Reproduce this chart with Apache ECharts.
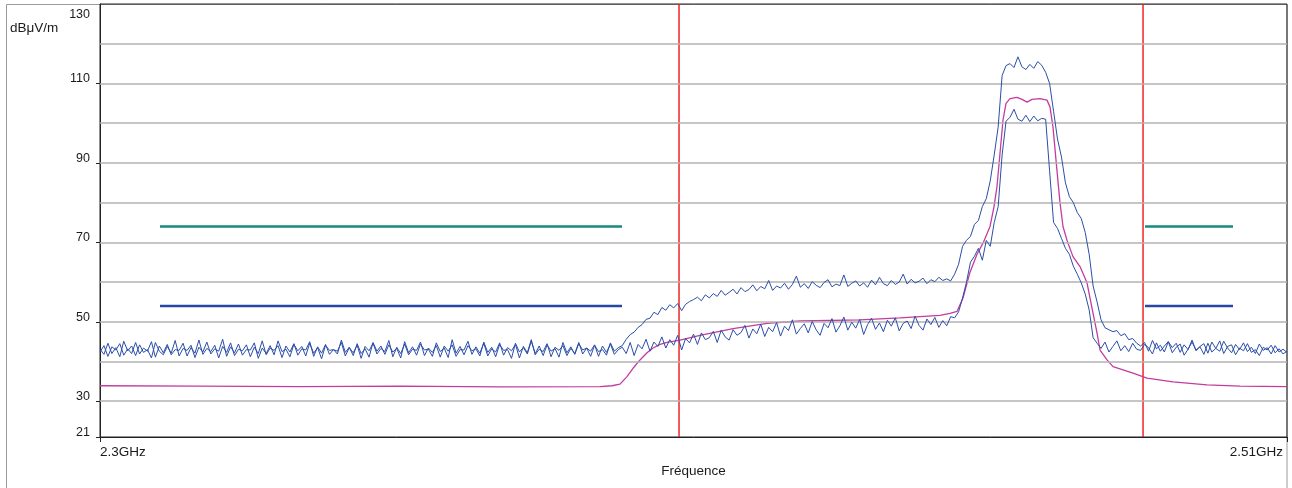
<!DOCTYPE html>
<html><head><meta charset="utf-8">
<script src="https://cdn.jsdelivr.net/npm/echarts@6/dist/echarts.min.js"></script>
<style>html,body{margin:0;padding:0;background:#fff}#c{width:1292px;height:488px}</style>
</head><body><div id="c"></div>
<script>
// ---- sweep definition (GHz) ----
var F_START = 2.3, F_END = 2.51, F_STEP = 0.0007; // 301 sweep points

// ---- y axis labels / x axis labels ----
var Y_MIN = 21, Y_MAX = 130;
var Y_LABELS = [21, 30, 50, 70, 90, 110, 130];
var Y_GRID = [30, 40, 50, 60, 70, 80, 90, 100, 110, 120];
var X_LABELS = [2.3, 2.51];
var Y_UNIT = 'dBμV/m';
var X_NAME = 'Fréquence';

// ---- upper blue trace (max hold), sweep indices 0..131 ----
var UPPER_LEFT = [
 43.1,41.8,44.6,42.0,43.5,41.2,45.1,42.7,43.9,41.5,
 44.2,42.3,43.0,40.9,44.8,42.6,41.7,43.8,42.1,45.3,
 41.4,43.3,42.8,44.1,41.0,43.6,42.4,44.9,41.9,43.2,
 42.6,45.6,41.3,43.7,42.2,44.4,41.6,43.0,42.9,44.7,
 40.8,43.4,42.0,44.0,41.7,45.2,42.5,43.1,41.2,44.3,
 42.7,43.8,41.4,44.6,42.1,43.5,40.7,44.1,42.8,43.0,
 41.9,45.4,42.3,43.6,41.5,44.5,42.0,43.2,41.1,44.8,
 42.6,43.9,41.8,44.2,42.4,43.3,40.9,45.0,42.2,43.7,
 41.6,44.4,42.9,43.1,41.3,44.7,42.5,43.4,41.0,45.5,
 42.1,43.8,41.7,44.0,42.7,43.2,41.4,44.9,42.3,43.6,
 41.2,44.3,42.8,43.0,40.8,44.6,42.4,43.5,41.9,45.1,
 42.0,43.9,41.5,44.2,42.6,43.3,41.1,44.8,42.2,43.7,
 41.8,44.5,42.9,43.4,41.3,44.1,42.5,43.0,41.6,44.7,
 42.6,43.5
];
// sweep indices 132..262
var UPPER_MID = [
 44.0,45.6,46.8,47.4,48.6,49.3,50.6,50.9,
 52.4,51.8,53.6,52.9,54.3,53.5,54.6,52.8,54.4,55.1,
 55.6,56.2,55.3,56.8,56.0,57.1,56.4,57.9,56.7,57.4,
 58.2,57.0,58.6,57.6,58.1,59.3,57.8,58.9,58.3,60.4,
 57.9,59.0,58.5,59.7,58.2,59.4,61.5,58.7,59.6,58.4,
 60.1,59.2,58.6,59.9,60.6,58.8,59.5,59.1,61.8,58.9,
 59.7,60.3,59.0,59.8,58.7,60.5,59.3,61.2,59.6,59.1,
 60.4,59.4,60.0,62.0,59.5,60.7,59.8,60.2,61.0,59.6,
 60.6,60.1,61.2,60.4,60.8,60.3,62.0,64.5,69.0,70.5,
 71.5,74.5,75.5,79.0,81.0,85.5,92.0,99.0,112.0,114.5,
 115.0,114.0,116.7,114.2,113.5,114.8,113.8,115.5,114.6,112.8,
 110.0,103.0,96.0,91.5,85.0,81.5,80.0,77.5,76.0,72.5,
 67.0,59.0,55.0,50.5,48.5,48.0,47.5,47.8,46.5,47.0,
 45.5,45.8,44.6
];
// last sweep indices up to 300
var UPPER_RIGHT = [
 43.9,44.8,42.6,45.3,43.2,44.1,42.4,45.0,43.5,44.6,
 42.3,44.2,43.0,45.4,42.7,43.8,44.5,42.1,44.9,43.3,
 42.6,45.1,43.4,42.2,44.3,43.0,44.7,42.5,43.6,42.0,
 44.4,42.8,43.5,41.9,44.0,42.4,43.1,42.3
];

// ---- lower blue trace, sweep indices 0..131 ----
var LOWER_LEFT = [
 42.4,44.0,41.3,43.7,42.9,44.5,41.6,43.2,42.0,44.8,
 41.9,43.4,42.6,45.0,41.1,43.9,42.2,44.3,41.7,43.0,
 42.8,44.6,41.4,43.5,42.1,45.4,41.8,43.3,42.5,44.1,
 40.9,43.8,42.3,44.7,41.5,43.1,42.7,44.2,41.2,43.6,
 42.0,45.2,41.7,43.4,42.8,44.0,41.0,43.9,42.4,44.5,
 41.6,43.2,42.9,45.0,41.3,43.7,42.1,44.3,41.8,43.0,
 42.6,44.8,41.4,43.5,42.2,44.1,40.8,43.8,42.7,44.6,
 41.9,43.3,42.5,45.3,41.2,43.6,42.0,44.4,41.7,43.1,
 42.8,44.9,41.5,43.4,42.3,44.0,41.1,43.9,42.6,44.2,
 41.3,43.0,42.9,45.1,41.8,43.7,42.1,44.6,41.4,43.2,
 42.4,44.7,41.6,43.5,42.7,44.3,40.9,43.8,42.2,45.5,
 41.7,43.1,42.5,44.5,41.2,43.6,42.8,44.0,41.5,43.3,
 42.0,44.8,41.9,43.4,42.6,44.2,41.3,43.9,42.3,44.4,
 41.8,43.0
];
var LOWER_MID = [
 43.6,42.0,44.8,41.5,44.3,43.2,45.6,42.6,
 44.9,43.8,46.2,43.4,45.5,44.1,46.6,42.9,45.8,44.7,
 46.9,44.3,47.2,45.5,46.0,47.6,44.8,47.9,46.2,45.4,
 48.0,46.6,47.3,49.1,45.9,48.2,47.0,49.4,46.3,48.6,
 47.5,49.8,46.4,48.9,47.8,50.5,46.9,48.3,49.5,47.2,
 50.1,48.0,46.6,49.6,48.5,50.8,47.4,49.0,51.2,47.9,
 49.9,48.4,50.6,46.8,49.3,50.9,48.1,49.7,47.5,50.4,
 48.9,51.0,47.7,49.6,50.2,48.3,51.4,49.1,47.9,50.7,
 49.3,51.1,48.6,50.3,49.0,51.3,51.0,52.5,56.0,60.0,
 65.0,66.5,68.5,65.5,70.5,69.0,75.0,79.0,92.0,100.5,
 101.5,103.5,101.0,100.5,102.0,100.4,101.8,100.6,101.2,101.0,
 88.0,75.0,73.5,71.0,68.5,67.0,64.0,62.0,59.8,57.0,
 53.0,46.0,44.6,43.3,44.9,42.4,43.8,45.2,42.7,44.0,
 42.5,44.6,43.1
];
var LOWER_RIGHT = [
 42.8,44.3,43.5,41.9,44.7,42.6,43.9,45.0,42.2,43.6,
 44.4,41.6,43.1,44.9,42.9,43.7,41.8,44.6,42.4,43.3,
 45.2,42.0,43.8,44.2,41.7,43.4,42.7,44.5,42.3,43.0,
 41.5,43.6,42.9,44.1,42.2,43.2,41.9,42.6
];

// ---- magenta (smooth) trace: frequency / level pairs ----
var MAG_FREQ = [2.3,2.31769,2.33538,2.35308,2.37077,2.38846,2.39058,2.392,2.39324,2.3943,
 2.39554,2.39678,2.39784,2.39908,2.40031,2.40261,2.40615,2.41199,2.41801,2.42385,
 2.43446,2.44154,2.44861,2.45038,2.45162,2.45268,2.45392,2.45516,2.45622,2.45746,
 2.45817,2.45869,2.45923,2.45976,2.46029,2.461,2.46224,2.46312,2.464,2.46489,
 2.4663,2.46754,2.46807,2.4686,2.46931,2.46984,2.47037,2.47108,2.47214,2.47338,
 2.47462,2.47568,2.47639,2.47692,2.47816,2.47922,2.48276,2.48523,2.48983,2.49585,
 2.50168,2.51];
var MAG_VAL = [33.9,33.8,33.7,33.8,33.6,33.7,33.9,34.3,36.2,38.3,
 40.4,42.2,43.4,44.3,44.8,45.4,46.6,48.3,49.6,50.2,
 50.5,51.0,51.6,52.1,52.6,56.0,62.5,67.0,69.8,74.0,
 79.0,84.0,92.5,100.8,105.0,106.2,106.5,106.0,105.3,106.0,
 106.2,105.8,104.1,99.0,88.0,80.0,74.0,70.5,66.4,63.9,
 59.8,52.2,47.2,42.9,40.4,38.7,37.1,35.8,34.9,34.1,
 33.8,33.7];

// ---- limit lines and markers ----
var LIMIT_PEAK = 74, LIMIT_AVG = 54;
var LIMIT_SEGMENTS = [[2.31062, 2.39235], [2.48488, 2.50045]];
var MARKER_FREQ = [2.40244, 2.48453];

// ---------------------------------------------------------
function seg(startIdx, arr) {
  return arr.map(function (v, k) { return [+(F_START + (startIdx + k) * F_STEP).toFixed(5), v]; });
}
var NPTS = Math.round((F_END - F_START) / F_STEP) + 1;
function trace(left, mid, right) {
  return seg(0, left).concat(seg(left.length, mid)).concat(seg(NPTS - right.length, right));
}
function limitData(level) {
  var d = [];
  LIMIT_SEGMENTS.forEach(function (s, i) {
    if (i > 0) d.push([(s[0] + LIMIT_SEGMENTS[i - 1][1]) / 2, '-']);
    d.push([s[0], level]); d.push([s[1], level]);
  });
  return d;
}
var FONT = 'Liberation Sans, Arial, sans-serif';
var BLUE = '#2a4ea8', MAG = '#c43c9e', TXT = '#1a1a1a', RED = '#f01414';

var markerSeries = MARKER_FREQ.map(function (f) {
  return { type: 'line', data: [[f, Y_MIN], [f, Y_MAX]], showSymbol: false, silent: true, z: 2,
    lineStyle: { color: RED, width: 1.4 } };
});

var chart = echarts.init(document.getElementById('c'));
chart.setOption({
  animation: false,
  backgroundColor: '#fff',
  grid: { left: 100, right: 5, top: 4, bottom: 51, show: true, borderColor: '#222', borderWidth: 1 },
  graphic: [
    { type: 'rect', silent: true, z: -10, shape: { x: 6.5, y: 4.5, width: 1280.5, height: 500 },
      style: { fill: 'none', stroke: '#9a9a9a', lineWidth: 1 } },
    { type: 'text', left: 10, top: 21, style: { text: Y_UNIT, font: '13.5px ' + FONT, fill: TXT } }
  ],
  xAxis: {
    type: 'value', min: F_START, max: F_END,
    name: X_NAME, nameLocation: 'middle', nameGap: 24,
    nameTextStyle: { fontFamily: FONT, fontSize: 13.5, color: TXT },
    axisLine: { lineStyle: { color: '#222', width: 1 } },
    axisTick: { show: true, customValues: X_LABELS, length: 5, lineStyle: { color: '#222' } },
    axisLabel: {
      customValues: X_LABELS, margin: 8, alignMinLabel: 'left', alignMaxLabel: 'right',
      fontFamily: FONT, fontSize: 13.5, color: TXT,
      formatter: function (v) { return v > 2.4 ? '{r|' + v + 'GHz}' : '{l|' + v + 'GHz}'; },
      rich: { r: { padding: [0, 4, 0, 0], fontFamily: FONT, fontSize: 13.5, color: TXT },
              l: { fontFamily: FONT, fontSize: 13.5, color: TXT } }
    },
    splitLine: { show: false }
  },
  yAxis: {
    type: 'value', min: Y_MIN, max: Y_MAX,
    axisLine: { show: true, lineStyle: { color: '#222', width: 1 } },
    axisTick: { show: true, customValues: Y_LABELS.slice(0, 6), length: 4, lineStyle: { color: '#222' } },
    axisLabel: {
      customValues: Y_LABELS, margin: 10, fontFamily: FONT, fontSize: 12.5, color: TXT,
      formatter: function (v) { return v === 130 ? '{t|' + v + '}' : '{n|' + v + '}'; },
      rich: { t: { padding: [22, 0, 0, 0], fontFamily: FONT, fontSize: 12.5, color: TXT },
              n: { padding: [0, 0, 9, 0], fontFamily: FONT, fontSize: 12.5, color: TXT } }
    },
    splitLine: { show: false }
  },
  series: [
    { type: 'line', data: [], silent: true, z: 1,
      markLine: { silent: true, symbol: 'none', precision: 5, label: { show: false },
        lineStyle: { color: '#b2b2b2', width: 1.5, type: 'solid' },
        data: Y_GRID.map(function (v) { return { yAxis: v }; }) } },
    { name: 'limit peak', type: 'line', data: limitData(LIMIT_PEAK), showSymbol: false, z: 3,
      lineStyle: { color: '#178a80', width: 2.5 }, connectNulls: false },
    { name: 'limit avg', type: 'line', data: limitData(LIMIT_AVG), showSymbol: false, z: 3,
      lineStyle: { color: '#2648a2', width: 2.5 }, connectNulls: false },
    { name: 'magenta', type: 'line', data: MAG_FREQ.map(function (f, i) { return [f, MAG_VAL[i]]; }),
      showSymbol: false, z: 4, lineStyle: { color: MAG, width: 1.3 } },
    { name: 'lower', type: 'line', data: trace(LOWER_LEFT, LOWER_MID, LOWER_RIGHT),
      showSymbol: false, z: 5, lineStyle: { color: BLUE, width: 1 } },
    { name: 'upper', type: 'line', data: trace(UPPER_LEFT, UPPER_MID, UPPER_RIGHT),
      showSymbol: false, z: 5, lineStyle: { color: BLUE, width: 1 } }
  ].concat(markerSeries)
});
</script></body></html>
